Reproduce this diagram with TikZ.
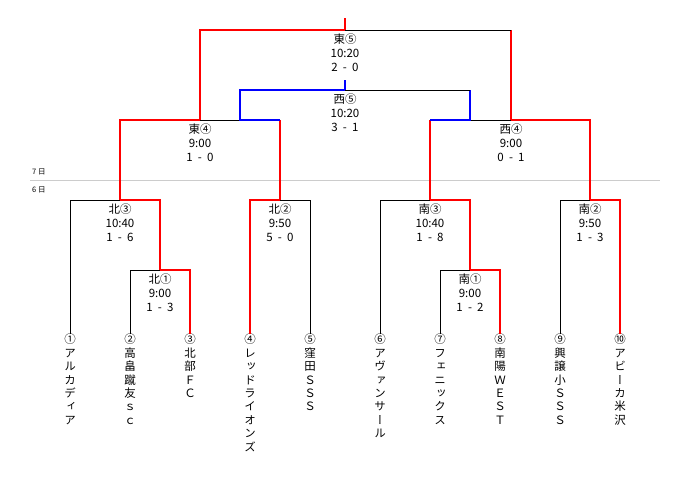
\documentclass[tikz,border=0pt]{standalone}
\usepackage{fontspec}
\setmainfont{Noto Sans CJK JP}
\newfontfamily\tatefont[RawFeature=+vert]{Noto Sans CJK JP}
\usetikzlibrary{positioning}
\newcommand\vs[2]{#1\hspace{0.45em}-\hspace{0.45em}#2}
\tikzset{
    win/.style = {draw=red, line width=1.4pt},
    third/.style = {draw=blue, line width=1.4pt},
    lose/.style = {draw=black, line width=0.8pt},
    match/.style = {align=center, inner sep=0pt, font=\addfontfeatures{Numbers=Monospaced}\fontsize{11.5}{14}\selectfont},
    team/.style = {align=center, inner sep=0pt, anchor=north, font=\tatefont\fontsize{11.5}{13.4}\selectfont},
    daylabel/.style = {anchor=west, inner sep=0pt, font=\fontsize{7.5}{8}\selectfont}}

\begin{document}
\begin{tikzpicture}[x=1pt, y=-1pt]
    \useasboundingbox (0,0) rectangle (690,500);
    % bracket junctions
    \coordinate (top) at (345,18);
    \coordinate (j10) at (345,30);
    \coordinate (stub5) at (345,80);
    \coordinate (j5) at (345,90);
    \coordinate (j4) at (200,120);
    \coordinate (s4) at (240,120);
    \coordinate (j9) at (511,120);
    \coordinate (s9) at (470,120);
    \coordinate (j3) at (120,200);
    \coordinate (j2) at (280,200);
    \coordinate (j8) at (430,200);
    \coordinate (j7) at (590,200);
    \coordinate (j1) at (160,270);
    \coordinate (j6) at (470,270);
    \coordinate (dayL) at (30,180);
    \coordinate (dayR) at (660,180);
    % match labels
    \node[match, below=4pt of j10] (higashi5) {東⑤\\10:20\\\vs{2}{0}};
    \node[match, below=4pt of j5] (nishi5) {西⑤\\10:20\\\vs{3}{1}};
    \node[match, below=4pt of j4] (higashi4) {東④\\9:00\\\vs{1}{0}};
    \node[match, below=4pt of j9] (nishi4) {西④\\9:00\\\vs{0}{1}};
    \node[match, below=4pt of j3] (kita3) {北③\\10:40\\\vs{1}{6}};
    \node[match, below=4pt of j2] (kita2) {北②\\9:50\\\vs{5}{0}};
    \node[match, below=4pt of j1] (kita1) {北①\\9:00\\\vs{1}{3}};
    \node[match, below=4pt of j8] (minami3) {南③\\10:40\\\vs{1}{8}};
    \node[match, below=4pt of j7] (minami2) {南②\\9:50\\\vs{1}{3}};
    \node[match, below=4pt of j6] (minami1) {南①\\9:00\\\vs{1}{2}};
    % days
    \node[daylabel] (day7) at (32,172) {7 日};
    \node[daylabel] (day6) at (32,190) {6 日};
    \draw[black!20, line width=0.8pt] (dayL) -- (dayR);
    % teams
    \node[team] (t1) at (70,334) {①\\ア\\ル\\カ\\デ\\ィ\\ア};
    \node[team] (t2) at (130,334) {②\\高\\畠\\蹴\\友\\ｓ\\ｃ};
    \node[team] (t3) at (190,334) {③\\北\\部\\Ｆ\\Ｃ};
    \node[team] (t4) at (250,334) {④\\レ\\ッ\\ド\\ラ\\イ\\オ\\ン\\ズ};
    \node[team] (t5) at (310,334) {⑤\\窪\\田\\Ｓ\\Ｓ\\Ｓ};
    \node[team] (t6) at (380,334) {⑥\\ア\\ヴ\\ァ\\ン\\サ\\ー\\ル};
    \node[team] (t7) at (440,334) {⑦\\フ\\ェ\\ニ\\ッ\\ク\\ス};
    \node[team] (t8) at (500,334) {⑧\\南\\陽\\Ｗ\\Ｅ\\Ｓ\\Ｔ};
    \node[team] (t9) at (560,334) {⑨\\興\\譲\\小\\Ｓ\\Ｓ\\Ｓ};
    \node[team] (t10) at (620,334) {⑩\\ア\\ビ\\ー\\カ\\米\\沢};
    % first round
    \draw[lose] (t1.north) |- (j3);
    \draw[lose] (t2.north) |- (j1);
    \draw[win] (t3.north) |- (j1);
    \draw[win] (j1) |- (j3);
    \draw[win] (t4.north) |- (j2);
    \draw[lose] (t5.north) |- (j2);
    \draw[lose] (t6.north) |- (j8);
    \draw[lose] (t7.north) |- (j6);
    \draw[win] (t8.north) |- (j6);
    \draw[win] (j6) |- (j8);
    \draw[lose] (t9.north) |- (j7);
    \draw[win] (t10.north) |- (j7);
    % semi finals
    \draw[win] (j3) |- (j4);
    \draw[win] (j2) -- (j2 |- j4);
    \draw[lose] (s4) -- (j4);
    \draw[win] (j8) -- (j8 |- j9);
    \draw[win] (j7) |- (j9);
    \draw[lose] (s9) -- (j9);
    % third place
    \draw[third] (j2 |- j4) -- (s4) |- (j5);
    \draw[third] (j8 |- j9) -- (s9) -- (s9 |- j5);
    \draw[lose] (s9 |- j5) -- (j5);
    \draw[third] (j5) -- (stub5);
    % final
    \draw[win] (j4) |- (j10);
    \draw[win] (j9) -- (j9 |- j10);
    \draw[lose] (j9 |- j10) -- (j10);
    \draw[win] (j10) -- (top);
\end{tikzpicture}
\end{document}
